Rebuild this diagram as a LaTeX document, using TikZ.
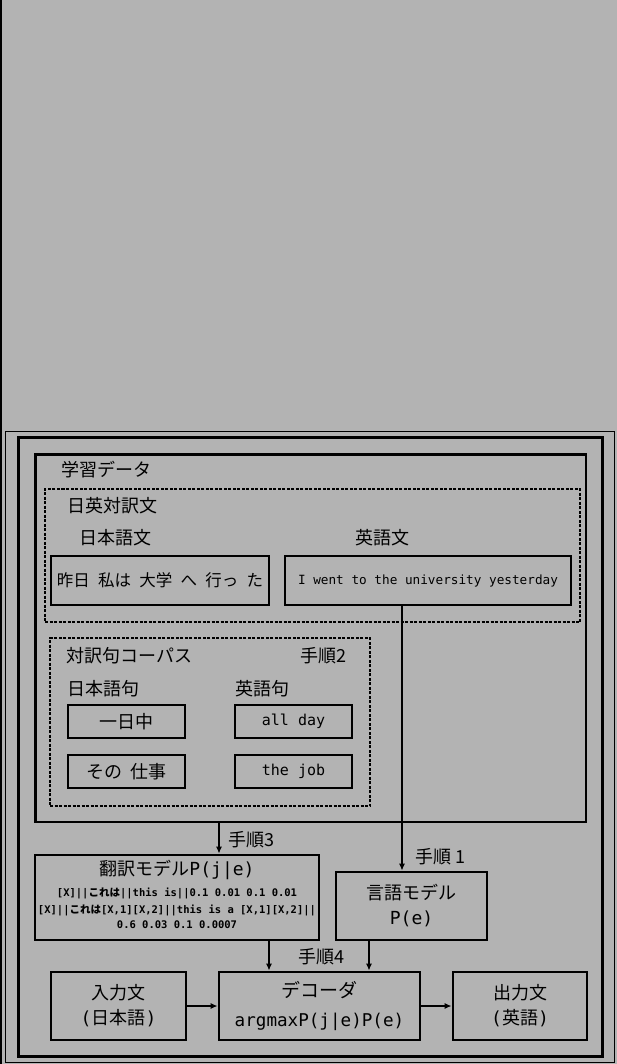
\documentclass[tikz,border=0pt]{standalone}
\usepackage{fontspec}
\setmainfont{Noto Sans CJK JP}
\setmonofont{DejaVu Sans Mono}
\usetikzlibrary{calc, arrows.meta}
\definecolor{bgray}{RGB}{179,179,179}

\tikzset{
  kuang/.style={draw, line width=2.7pt, inner sep=0pt},  % 实线方框
  xukuang/.style={draw, line width=2.2pt, dash pattern=on 3pt off 1.5pt, inner sep=0pt}, % 虚线方框
  biaoqian/.style={inner sep=0pt, font=\fontsize{18}{20}\selectfont}, % 标签文字
  xiaozi/.style={inner sep=0pt, font=\bfseries\fontsize{10.5}{12}\selectfont},
  jiantou/.style={line width=2pt, -{Latex[length=7pt,width=6pt]}} % 箭头
}

\begin{document}
\begin{tikzpicture}[x=1pt,y=-1pt]
  % 背景与外框
  \fill[bgray] (0,0) rectangle (617,1064);
  \useasboundingbox (0,0) rectangle (617,1064);
  \fill[black] (0,0) rectangle (2,1064);
  \draw[line width=1pt] (5.5,431.5) rectangle (614.5,1062.5);
  \draw[line width=3pt] (18.5,437.5) rectangle (602.5,1056);

  % 学習データ
  \node[kuang, minimum width=550.5, minimum height=367.5] (data) at (310.75,638.25) {};
  \node[biaoqian, anchor=west] (datalbl) at (61,470) {学習データ};

  % 日英対訳文
  \node[xukuang, minimum width=535, minimum height=133] (pair) at (312.5,555.5) {};
  \node[biaoqian, anchor=west] (pairlbl) at (67,506) {日英対訳文};
  \node[biaoqian] (jplbl) at (115,538) {日本語文};
  \node[biaoqian] (enlbl) at (382,538) {英語文};
  \node[kuang, minimum width=218, minimum height=49, font=\fontsize{16.5}{18}\selectfont]
    (jpsent) at (160,580.5) {昨日\hspace{0.5em}私は\hspace{0.5em}大学\hspace{0.5em}へ\hspace{0.5em}行っ\hspace{0.5em}た};
  \node[kuang, minimum width=286, minimum height=49, font=\ttfamily\fontsize{12.7}{14}\selectfont]
    (ensent) at (428,580.5) {I went to the university yesterday};

  % 対訳句コーパス
  \node[xukuang, minimum width=320, minimum height=168] (corpus) at (210,722) {};
  \node[biaoqian, anchor=west] (corpuslbl) at (66,656) {対訳句コーパス};
  \node[biaoqian, anchor=east] (step2) at (347,656) {手順2};
  \node[biaoqian, anchor=west] (jpphr) at (67,689) {日本語句};
  \node[biaoqian, anchor=west] (enphr) at (235,689) {英語句};
  \foreach \nm/\y/\jp/\en in {a/721.5/一日中/all day, b/771.5/その\hspace{0.4em}仕事/the job}
  {
    \node[kuang, minimum width=117, minimum height=33, font=\fontsize{18}{20}\selectfont]
      (jp\nm) at (126.5,\y) {\jp};
    \node[kuang, minimum width=117, minimum height=33, font=\ttfamily\fontsize{15}{17}\selectfont]
      (en\nm) at (293.5,\y) {\en};
  }

  % 翻訳モデル
  \node[kuang, minimum width=284, minimum height=85] (tm) at (177,897.5) {};
  \node[biaoqian] (tmtitle) at (177,870) {翻訳モデル\texttt{P(j|e)}};
  \node[xiaozi] (tmr1) at (177,893) {\texttt{[X]||}これは\texttt{||this is||0.1 0.01 0.1 0.01}};
  \node[xiaozi] (tmr2) at (177,910) {\texttt{[X]||}これは\texttt{[X,1][X,2]||this is a [X,1][X,2]||}};
  \node[xiaozi] (tmr3) at (177,925) {\texttt{0.6 0.03 0.1 0.0007}};

  % 言語モデル
  \node[kuang, minimum width=151, minimum height=68, align=center, font=\fontsize{18}{25}\selectfont]
    (lm) at (411.5,906) {言語モデル\\\texttt{P(e)}};

  % 入力文, デコーダ, 出力文
  \node[kuang, minimum width=135, minimum height=68, align=center, font=\fontsize{18}{25}\selectfont]
    (inp) at (118.5,1006) {入力文\\\texttt{(}日本語\texttt{)}};
  \node[kuang, minimum width=201, minimum height=68, align=center, font=\fontsize{19}{29}\selectfont]
    (dec) at (319.5,1006) {デコーダ\\{\ttfamily\fontsize{17.6}{29}\selectfont argmaxP(j|e)P(e)}};
  \node[kuang, minimum width=134, minimum height=68, align=center, font=\fontsize{18}{25}\selectfont]
    (out) at (520,1006) {出力文\\\texttt{(}英語\texttt{)}};

  % 箭头
  \coordinate (xa) at (402,0);
  \coordinate (xb) at (219,0);
  \coordinate (xc) at (269,0);
  \coordinate (xd) at (369,0);
  \draw[jiantou] (ensent.south -| xa) -- (lm.north -| xa);
  \draw[jiantou] (data.south -| xb) -- (tm.north -| xb);
  \draw[jiantou] (tm.south -| xc) -- (dec.north -| xc);
  \draw[jiantou] (lm.south -| xd) -- (dec.north -| xd);
  \draw[jiantou] (inp) -- (dec);
  \draw[jiantou] (dec) -- (out);

  % 手順ラベル
  \node[biaoqian, anchor=west] (step3) at (228,840) {手順3};
  \node[biaoqian, anchor=west] (step1) at (415,857) {手順 1};
  \node[biaoqian, anchor=west] (step4) at (298,957) {手順4};
\end{tikzpicture}
\end{document}
